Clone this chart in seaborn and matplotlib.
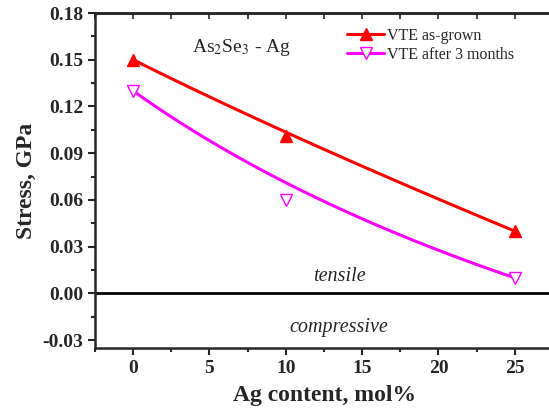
import numpy as np
import matplotlib
matplotlib.use("Agg")
import matplotlib.pyplot as plt
import seaborn as sns
from matplotlib.ticker import MultipleLocator

ag = [0, 10, 25]
as_grown = [0.150, 0.101, 0.040]
after_3m = [0.130, 0.060, 0.010]

sns.set_style("ticks")
plt.rcParams["font.family"] = ["Liberation Serif", "DejaVu Serif"]
plt.rcParams["mathtext.fontset"] = "stix"


def bspline(x, y, n=100):
    # Origin-like B-spline connection through three control points
    t = np.linspace(0, 1, n)
    x = np.asarray(x, float)
    y = np.asarray(y, float)
    bx = (1 - t) ** 2 * x[0] + 2 * t * (1 - t) * x[1] + t ** 2 * x[2]
    by = (1 - t) ** 2 * y[0] + 2 * t * (1 - t) * y[1] + t ** 2 * y[2]
    return bx, by


fig = plt.figure(figsize=(5.49, 4.16), dpi=100)
ax = fig.add_axes([95 / 549, 68 / 416, 1 - 95 / 549 + 0.01, 335 / 416])

cx, cy = bspline(ag, as_grown)
sns.lineplot(x=cx, y=cy, ax=ax, color="red", lw=2.2, sort=False)
cx, cy = bspline(ag, after_3m)
sns.lineplot(x=cx, y=cy, ax=ax, color="magenta", lw=2.2, sort=False)

ax.plot(ag, as_grown, ls="none", marker="^", ms=9, color="red", mec="red")
ax.plot(ag, after_3m, ls="none", marker="v", ms=9, mfc="white", mec="magenta", mew=1.0)

# legend proxies
ax.plot([], [], color="red", lw=2.2, marker="^", ms=9, label="VTE as-grown")
ax.plot([], [], color="magenta", lw=2.2, marker="v", ms=9, mfc="white",
        mec="magenta", mew=1.0, label="VTE after 3 months")
h, l = ax.get_legend_handles_labels()
ax.legend(h[-2:], l[-2:], loc="upper left", bbox_to_anchor=(0.535, 0.975),
          frameon=False, fontsize=11.5, handlelength=2.3, handletextpad=0.2,
          labelspacing=0.2, borderaxespad=0)

ax.axhline(0, color="black", lw=2)

ax.text(7.1, 0.158, r"As$_2$Se$_3$ - Ag", ha="center", va="center", fontsize=14)
ax.text(13.5, 0.011, "tensile", ha="center", va="center", fontsize=14.5, style="italic")
ax.text(13.5, -0.022, "compressive", ha="center", va="center", fontsize=14.5, style="italic")

ax.set_xlim(-2.5, 27.6)
ax.set_ylim(-0.035, 0.18)
ax.xaxis.set_major_locator(MultipleLocator(5))
ax.xaxis.set_minor_locator(MultipleLocator(2.5))
ax.yaxis.set_major_locator(MultipleLocator(0.03))
ax.yaxis.set_minor_locator(MultipleLocator(0.015))
ax.yaxis.set_major_formatter(plt.FuncFormatter(lambda v, p: f"{v:.2f}"))

for s in ax.spines.values():
    s.set_linewidth(1.8)
ax.spines["right"].set_visible(False)

ax.tick_params(which="both", width=1.5, direction="out", top=False, right=False)
ax.tick_params(which="major", length=5, labelsize=14)
ax.tick_params(which="minor", length=3)
for lab in ax.get_xticklabels() + ax.get_yticklabels():
    lab.set_fontweight("bold")

top = ax.secondary_xaxis("top")
top.xaxis.set_major_locator(MultipleLocator(2.5))
top.tick_params(direction="in", length=4, width=1.2, labeltop=False)
top.spines["top"].set_linewidth(1.8)

ax.set_xlabel("Ag content, mol%", fontsize=17, fontweight="bold", labelpad=6)
ax.set_ylabel("Stress, GPa", fontsize=17, fontweight="bold", labelpad=4)

fig.savefig("out.png", dpi=100)
